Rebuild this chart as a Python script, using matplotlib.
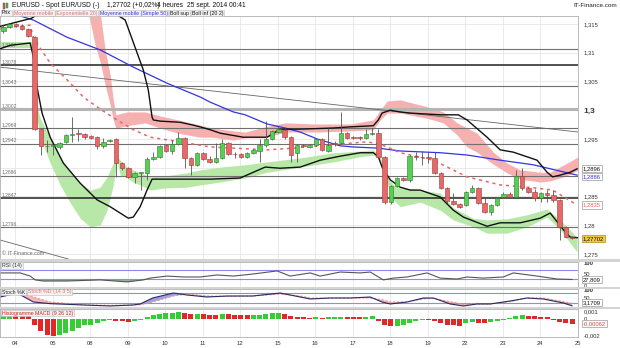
import numpy as np
import matplotlib
matplotlib.use("Agg")
import matplotlib.pyplot as plt
from matplotlib.patches import Rectangle

plt.rcParams['font.family'] = ['Liberation Sans', 'DejaVu Sans']

# --- price data (4h candles, EUR/USD) ---
open_ = [1.3138, 1.3145, 1.3150, 1.3147, 1.3141, 1.3127, 1.2967, 1.2938, 1.2937, 1.2936,
         1.2945, 1.2957, 1.2960, 1.2959, 1.2955, 1.2953, 1.2938, 1.2946, 1.2950, 1.2908,
         1.2899, 1.2884, 1.2891, 1.2891, 1.2915, 1.2919, 1.2939, 1.2929, 1.2941, 1.2952,
         1.2917, 1.2905, 1.2926, 1.2915, 1.2910, 1.2917, 1.2943, 1.2924, 1.2924, 1.2919,
         1.2926, 1.2929, 1.2939, 1.2950, 1.2962, 1.2966, 1.2953, 1.2926, 1.2939, 1.2936,
         1.2939, 1.2950, 1.2929, 1.2943, 1.2943, 1.2960, 1.2953, 1.2953, 1.2951, 1.2959,
         1.2960, 1.2919, 1.2840, 1.2868, 1.2882, 1.2879, 1.2921, 1.2919, 1.2918, 1.2917,
         1.2891, 1.2865, 1.2842, 1.2837, 1.2835, 1.2858, 1.2865, 1.2839, 1.2823, 1.2835,
         1.2849, 1.2854, 1.2849, 1.2886, 1.2865, 1.2858, 1.2847, 1.2856, 1.2852, 1.2844,
         1.2797, 1.2779]
high = [1.3148, 1.3152, 1.3152, 1.3150, 1.3143, 1.3129, 1.2969, 1.2948, 1.2942, 1.2945,
        1.2959, 1.2988, 1.2967, 1.2960, 1.2957, 1.2955, 1.2952, 1.2950, 1.2952, 1.2910,
        1.2901, 1.2893, 1.2893, 1.2919, 1.2927, 1.2940, 1.2941, 1.2948, 1.2962, 1.2953,
        1.2919, 1.2927, 1.2927, 1.2920, 1.2943, 1.2950, 1.2945, 1.2927, 1.2926, 1.2927,
        1.2933, 1.2950, 1.2981, 1.2966, 1.2972, 1.2969, 1.2955, 1.2941, 1.2941, 1.2941,
        1.2952, 1.2952, 1.2969, 1.2946, 1.2997, 1.2962, 1.2955, 1.2955, 1.2967, 1.2969,
        1.2967, 1.2921, 1.2870, 1.2884, 1.2884, 1.2922, 1.2927, 1.2929, 1.2927, 1.2927,
        1.2893, 1.2867, 1.2856, 1.2839, 1.2860, 1.2870, 1.2867, 1.2847, 1.2837, 1.2849,
        1.2858, 1.2858, 1.2896, 1.2899, 1.2867, 1.2863, 1.2858, 1.2861, 1.2861, 1.2846,
        1.2799, 1.2781]
low = [1.3134, 1.3143, 1.3145, 1.3139, 1.3127, 1.2965, 1.2922, 1.2927, 1.2922, 1.2933,
       1.2943, 1.2945, 1.2946, 1.2950, 1.2950, 1.2933, 1.2934, 1.2945, 1.2884, 1.2896,
       1.2882, 1.2874, 1.2861, 1.2879, 1.2913, 1.2917, 1.2927, 1.2924, 1.2939, 1.2899,
       1.2887, 1.2903, 1.2913, 1.2908, 1.2908, 1.2915, 1.2922, 1.2917, 1.2917, 1.2917,
       1.2924, 1.2910, 1.2936, 1.2948, 1.2960, 1.2950, 1.2910, 1.2910, 1.2936, 1.2934,
       1.2938, 1.2929, 1.2927, 1.2938, 1.2941, 1.2950, 1.2950, 1.2948, 1.2950, 1.2957,
       1.2917, 1.2837, 1.2837, 1.2866, 1.2877, 1.2875, 1.2913, 1.2905, 1.2908, 1.2889,
       1.2863, 1.2839, 1.2835, 1.2830, 1.2833, 1.2856, 1.2837, 1.2821, 1.2818, 1.2833,
       1.2847, 1.2847, 1.2847, 1.2861, 1.2856, 1.2842, 1.2840, 1.2840, 1.2840, 1.2774,
       1.2777, 1.2776]
close_ = [1.3145, 1.3150, 1.3147, 1.3141, 1.3129, 1.2967, 1.2938, 1.2937, 1.2939, 1.2943,
          1.2957, 1.2959, 1.2958, 1.2953, 1.2952, 1.2938, 1.2945, 1.2949, 1.2908, 1.2899,
          1.2884, 1.2891, 1.2891, 1.2915, 1.2919, 1.2938, 1.2929, 1.2941, 1.2952, 1.2917,
          1.2905, 1.2926, 1.2915, 1.2910, 1.2917, 1.2943, 1.2924, 1.2923, 1.2919, 1.2926,
          1.2931, 1.2939, 1.2950, 1.2964, 1.2967, 1.2953, 1.2922, 1.2939, 1.2938, 1.2939,
          1.2950, 1.2931, 1.2939, 1.2942, 1.2960, 1.2952, 1.2952, 1.2951, 1.2959, 1.2960,
          1.2919, 1.2840, 1.2868, 1.2882, 1.2879, 1.2920, 1.2919, 1.2918, 1.2917, 1.2891,
          1.2865, 1.2842, 1.2837, 1.2832, 1.2858, 1.2865, 1.2839, 1.2823, 1.2835, 1.2847,
          1.2854, 1.2849, 1.2886, 1.2865, 1.2858, 1.2847, 1.2856, 1.2852, 1.2844, 1.2797,
          1.2779, 1.2777]
last_quote = "1,27702"

day_labels = ["04", "05", "08", "09", "10", "11", "12", "15", "16", "17", "18", "19",
              "22", "23", "24", "25"]
day_pos = [1.9 + 6 * k for k in range(len(day_labels))]

# --- overlays (bar index, price) ---
boll_up_x = [-0.5, 2.0, 4.5, 9.0, 14.0, 19.5, 22.4, 23.2, 23.8, 24.0, 25.1, 28.3, 30.4, 31.5,
             33.1, 34.7, 38.4, 42.2, 44.3, 47.5, 52.8, 55.5, 59.2, 60.0, 60.6, 61.9, 63.5,
             65.1, 69.9, 72.8, 74.2, 77.4, 79.5, 81.6, 85.4, 87.0, 87.9, 89.1, 90.7, 91.8]
boll_up_y = [1.3146, 1.3153, 1.3160, 1.3190, 1.3195, 1.3157, 1.3070, 1.3035, 1.2988, 1.2983,
             1.2981, 1.2979, 1.2974, 1.2971, 1.2966, 1.2960, 1.2953, 1.2953, 1.2967, 1.2967,
             1.2969, 1.2971, 1.2973, 1.2983, 1.2995, 1.3000, 1.2997, 1.2995, 1.2992, 1.2992,
             1.2983, 1.2953, 1.2931, 1.2927, 1.2913, 1.2892, 1.2884, 1.2887, 1.2892, 1.2898]
boll_dn_x = [-0.5, 1.1, 4.3, 4.8, 5.4, 6.2, 7.5, 9.6, 12.3, 15.0, 17.1, 20.0, 20.8, 21.9,
             23.0, 23.8, 26.2, 29.4, 33.1, 37.9, 41.9, 44.3, 47.5, 50.7, 53.9, 57.1, 59.2,
             60.0, 60.6, 61.9, 63.5, 65.1, 66.7, 69.9, 72.0, 73.6, 77.4, 79.5, 82.7, 85.9,
             87.5, 89.6, 90.7, 92.0]
boll_dn_y = [1.3107, 1.3113, 1.3117, 1.3093, 1.3040, 1.2995, 1.2953, 1.2908, 1.2873, 1.2844,
             1.2832, 1.2812, 1.2814, 1.2832, 1.2861, 1.2880, 1.2880, 1.2880, 1.2880, 1.2882,
             1.2901, 1.2899, 1.2901, 1.2913, 1.2920, 1.2926, 1.2926, 1.2919, 1.2901, 1.2879,
             1.2866, 1.2861, 1.2861, 1.2849, 1.2826, 1.2814, 1.2798, 1.2804, 1.2804, 1.2812,
             1.2821, 1.2792, 1.2779, 1.2778]
ema_x = [-0.5, 4.3, 4.8, 5.9, 7.5, 10.2, 12.8, 15.5, 18.2, 20.8, 23.5, 28.3, 33.1, 36.8,
         42.2, 46.4, 51.8, 58.2, 60.3, 63.5, 65.1, 68.8, 74.2, 79.5, 84.8, 87.9, 91.8]
ema_y = [1.3143, 1.3148, 1.3127, 1.3108, 1.3082, 1.3053, 1.3023, 1.3002, 1.2983, 1.2966,
         1.2953, 1.2945, 1.2936, 1.2934, 1.2931, 1.2934, 1.2939, 1.2945, 1.2941, 1.2926,
         1.2922, 1.2913, 1.2884, 1.2870, 1.2865, 1.2861, 1.2835]
sma_x = [-0.5, 4.8, 10.2, 15.5, 20.8, 26.2, 31.5, 33.1, 36.8, 38.7, 42.2, 45.1, 47.5, 50.2,
         53.9, 56.0, 60.0, 63.5, 69.9, 74.2, 79.5, 84.8, 91.8]
sma_y = [1.3175, 1.3157, 1.3127, 1.3105, 1.3075, 1.3047, 1.3023, 1.3014, 1.2997, 1.2992,
         1.2976, 1.2969, 1.2962, 1.2950, 1.2938, 1.2936, 1.2934, 1.2929, 1.2926, 1.2922,
         1.2913, 1.2905, 1.2887]

pink_x = [13.6, 14.7, 15.5, 16.3, 17.1, 17.6, 18.0, 19.8, 22.7, 25.1, 28.0, 31.5, 33.4, 36.8,
          38.7, 41.9, 45.1, 50.2, 55.5, 59.2, 60.3, 61.4, 63.5, 67.8, 70.4, 72.6, 74.2, 75.8,
          78.4, 80.6, 82.7, 85.9, 87.5, 90.2, 92.0]
pink_top = [1.3170, 1.3170, 1.3170, 1.3105, 1.3061, 1.3018, 1.2992, 1.2997, 1.2997, 1.2990,
            1.2983, 1.2974, 1.2969, 1.2964, 1.2962, 1.2971, 1.2978, 1.2976, 1.2976, 1.2983,
            1.3000, 1.3016, 1.3018, 1.3006, 1.2997, 1.2978, 1.2969, 1.2960, 1.2927, 1.2908,
            1.2896, 1.2892, 1.2892, 1.2908, 1.2919]
pink_bot = [1.3170, 1.3113, 1.3084, 1.3044, 1.3009, 1.2983, 1.2969, 1.2973, 1.2978, 1.2969,
            1.2960, 1.2953, 1.2953, 1.2948, 1.2952, 1.2952, 1.2962, 1.2962, 1.2964, 1.2966,
            1.2983, 1.2995, 1.2995, 1.2986, 1.2978, 1.2957, 1.2936, 1.2927, 1.2906, 1.2891,
            1.2880, 1.2875, 1.2877, 1.2886, 1.2896]
green_a_x = [-0.5, 4.6]
green_a_top = [1.3119, 1.3119]
green_a_bot = [1.3108, 1.3108]
green_x = [5.1, 5.9, 6.7, 7.5, 9.1, 10.7, 12.3, 13.9, 15.5, 16.6, 17.6, 18.2, 18.7, 19.8,
           20.8, 21.9, 23.5, 26.2, 29.4, 31.5, 34.7, 38.7, 42.2, 47.5, 52.8, 57.1, 59.2,
           60.3, 61.4, 62.4, 63.5, 66.7, 69.9, 72.0, 75.2, 77.4, 80.6, 83.8, 87.0, 89.1, 91.8]
green_top = [1.3018, 1.2986, 1.2969, 1.2953, 1.2919, 1.2892, 1.2873, 1.2861, 1.2866, 1.2884,
             1.2908, 1.2919, 1.2913, 1.2901, 1.2896, 1.2891, 1.2884, 1.2886, 1.2891, 1.2896,
             1.2901, 1.2905, 1.2910, 1.2917, 1.2926, 1.2929, 1.2931, 1.2919, 1.2884, 1.2870,
             1.2865, 1.2861, 1.2856, 1.2830, 1.2812, 1.2809, 1.2811, 1.2818, 1.2828, 1.2809,
             1.2779]
green_bot = [1.3000, 1.2957, 1.2931, 1.2908, 1.2870, 1.2839, 1.2812, 1.2797, 1.2800, 1.2826,
             1.2870, 1.2913, 1.2887, 1.2882, 1.2875, 1.2870, 1.2861, 1.2865, 1.2866, 1.2870,
             1.2875, 1.2882, 1.2892, 1.2901, 1.2910, 1.2919, 1.2922, 1.2913, 1.2872, 1.2844,
             1.2832, 1.2840, 1.2826, 1.2809, 1.2797, 1.2786, 1.2786, 1.2797, 1.2814, 1.2792,
             1.2753]

levels = [1.3107, 1.3078, 1.3043, 1.3002, 1.2969, 1.2942, 1.2886, 1.2847, 1.2796]
trend_a_x = [-0.5, 92.0]
trend_a_y = [1.3075, 1.2962]
trend_b_x = [-0.5, 15.0]
trend_b_y = [1.2774, 1.2727]

# --- indicators ---
rsi_x = [-0.5, 2.7, 4.3, 5.1, 6.4, 10.2, 15.5, 19.8, 22.4, 23.5, 26.2, 28.8, 31.5, 34.2,
         36.8, 39.9, 43.8, 45.9, 49.1, 50.7, 53.9, 57.1, 58.7, 60.8, 62.4, 64.6, 67.8,
         69.9, 72.6, 74.2, 76.8, 80.0, 81.6, 85.4, 88.6, 91.0]
rsi_y = [57, 57, 43, 26, 21, 21, 26, 17, 26, 34, 43, 39, 39, 48, 43, 52, 66, 43, 57, 43,
         61, 57, 61, 26, 34, 39, 57, 34, 30, 39, 34, 39, 57, 43, 30, 27.8]
rsi_last = "27,809"

sto_x = [-0.5, 1.6, 2.7, 4.8, 7.5, 12.8, 17.1, 20.8, 21.9, 23.9, 27.2, 29.4, 32.6, 35.8,
         39.9, 44.3, 47.5, 49.1, 52.3, 55.5, 58.7, 60.6, 61.9, 64.6, 67.2, 68.8, 71.5,
         73.6, 75.8, 77.9, 81.1, 83.8, 86.4, 89.6, 91.0]
sto_k = [56, 74, 70, 26, 16, 8, 2, 8, 14, 50, 80, 68, 56, 62, 62, 80, 56, 44, 50, 50,
         56, 26, 14, 26, 50, 50, 14, 2, 14, 14, 32, 50, 44, 20, 3]
sto_d = [62, 76, 80, 56, 26, 8, 6, 8, 9, 26, 62, 74, 62, 60, 62, 74, 62, 50, 50, 50,
         50, 40, 26, 26, 44, 48, 28, 12, 14, 14, 28, 50, 50, 28, 18]
sto_last = "3,1709"

macd_hist = [0.0004, 0.00042, 0.0004, 0.00038, 0.00035, -0.0008, -0.0015, -0.002, -0.0021,
             -0.002, -0.0018, -0.0015, -0.0011, -0.0008, -0.0007, -0.0005, -0.0003, -0.0001,
             -0.0002, -0.0003, -0.00032, -0.0002, -0.0001, 0.0002, 0.0005, 0.0006, 0.0007,
             0.0008, 0.00085, 0.0007, 0.0006, 0.00062, 0.00058, 0.00055, 0.0005, 0.0006,
             0.00058, 0.00055, 0.0005, 0.00045, 0.0005, 0.00055, 0.0006, 0.00068, 0.0007,
             0.0006, 0.0004, 0.0003, 0.0002, 0.00018, 0.0003, 0.0001, 0.0002, 0.00022,
             0.0003, 0.00028, 0.00026, 0.00024, 0.0003, 0.00032, -0.0002, -0.0008, -0.0009,
             -0.00085, -0.0008, -0.0005, -0.0003, -0.0001, -0.00012, -0.0002, -0.0005,
             -0.0007, -0.0008, -0.00082, -0.0005, -0.0004, -0.00045, -0.0005, -0.0004,
             -0.0003, -0.0001, 0.0001, 0.0004, 0.00045, 0.0004, 0.00038, 0.0003, 0.0002,
             -0.0001, -0.0004, -0.0005, -0.00062]
macd_last = "-0,00062"


def comma(v, nd):
    return f"{v:.{nd}f}".replace(".", ",")


W, H = 620, 348
fig = plt.figure(figsize=(W / 100, H / 100), dpi=100)
fig.patch.set_facecolor("white")
renderer = fig.canvas.get_renderer()


def px_axes(x0, y0, x1, y1):
    return fig.add_axes([x0 / W, 1 - y1 / H, (x1 - x0) / W, (y1 - y0) / H])


def chip_row(items, x_start, y_px, size):
    # labels in little boxes, one after the other
    x = x_start
    for txt, col in items:
        t = fig.text(x / W, 1 - y_px / H, txt, fontsize=size, va="center", color=col,
                     bbox=dict(boxstyle="square,pad=0.15", fc="#f2f2f2", ec="#bcbcbc", lw=0.4))
        x = t.get_window_extent(renderer).x1 + 2.5


# gray separators between panels
for ya, yb in [(259, 262), (287, 289), (307, 309)]:
    fig.add_artist(Rectangle((0, 1 - yb / H), 1, (yb - ya) / H, transform=fig.transFigure,
                             color="#d4d4d4", lw=0))

ax = px_axes(0, 16, 578, 259)
ax_rsi = px_axes(0, 262, 578, 287)
ax_sto = px_axes(0, 289, 578, 307)
ax_macd = px_axes(0, 309, 578, 337)
xlim = (-0.53, 91.95)

for a in (ax, ax_rsi, ax_sto, ax_macd):
    a.set_xlim(*xlim)
    a.set_xticks(day_pos)
    a.tick_params(axis="x", length=0, labelbottom=False)
    a.grid(axis="x", color="#e6e6e6", lw=0.6)
    a.yaxis.tick_right()
    a.tick_params(axis="y", length=0, pad=4, labelsize=4.2, labelcolor="#333333")
    for s in a.spines.values():
        s.set_color("#b0b0b0")
        s.set_linewidth(0.6)
    a.set_axisbelow(True)

# ---------------- main price panel ----------------
ax.set_ylim(1.2741, 1.3164)
yt = [1.275, 1.28, 1.285, 1.295, 1.3, 1.305, 1.31, 1.315]
ax.set_yticks(yt)
ax.set_yticklabels(["1,275", "1,28", "1,285", "1,295", "1,3", "1,305", "1,31", "1,315"])
for lab in ax.get_yticklabels():
    if lab.get_text() == "1,3":
        lab.set_fontsize(6)
        lab.set_fontweight("bold")
for g in np.arange(1.275, 1.3151, 0.005):
    ax.axhline(g, color="#e6e6e6", lw=0.6, zorder=0)

ax.fill_between(pink_x, pink_bot, pink_top, color="#f7b0b0", lw=0, zorder=1)
ax.fill_between(green_a_x, green_a_bot, green_a_top, color="#b8e8a8", lw=0, zorder=1)
ax.fill_between(green_x, green_bot, green_top, color="#b8e8a8", lw=0, zorder=1)

for lv in levels:
    if lv in (1.3078, 1.2847):
        col, lw = "#222222", 1.1
    elif lv == 1.3002:
        col, lw = "#b4b4b4", 2.2
    else:
        col, lw = "#707070", 0.8
    ax.axhline(lv, color=col, lw=lw, zorder=2)
    ax.text(-0.2, lv + 0.0002, comma(lv, 4), fontsize=3.6, color="#707070",
            va="bottom", ha="left", zorder=3)

ax.plot(trend_a_x, trend_a_y, color="#666666", lw=0.6, zorder=2)
ax.plot(trend_b_x, trend_b_y, color="#666666", lw=0.6, zorder=2)

ax.plot(sma_x, sma_y, color="#3434e0", lw=0.9, zorder=3)
ax.plot(ema_x, ema_y, color="#e06868", lw=1.1, ls=(0, (2, 2.5)), zorder=3)
ax.plot(boll_up_x, boll_up_y, color="#111111", lw=1.0, zorder=3)
ax.plot(boll_dn_x, boll_dn_y, color="#111111", lw=1.0, zorder=3)

idx = np.arange(len(close_))
o = np.array(open_)
c = np.array(close_)
up = c >= o
body_lo = np.minimum(o, c)
body_h = np.maximum(np.abs(c - o), 0.00008)
ax.vlines(idx, low, high, color="#555555", lw=0.6, zorder=4)
ax.bar(idx[up], body_h[up], bottom=body_lo[up], width=0.72, color="#55d055",
       edgecolor="#2f7a2f", lw=0.4, zorder=5)
ax.bar(idx[~up], body_h[~up], bottom=body_lo[~up], width=0.72, color="#e86868",
       edgecolor="#9a3a3a", lw=0.4, zorder=5)

ax.text(-0.2, 1.2747, "\u00a9 IT-Finance.com", fontsize=3.8, color="#666666", va="bottom")

# right-hand value boxes
ytr = ax.get_yaxis_transform()
box = dict(boxstyle="square,pad=0.18", fc="white", ec="#9a9a9a", lw=0.5)
ax.text(1.008, boll_up_y[-1], comma(boll_up_y[-1] - 0.0002, 4), transform=ytr, fontsize=4.2,
        va="center", ha="left", color="#111111", bbox=box, clip_on=False)
ax.text(1.008, sma_y[-1] - 0.0003, comma(sma_y[-1] - 0.0001, 4), transform=ytr, fontsize=4.2,
        va="center", ha="left", color="#3434e0", bbox=box, clip_on=False)
ax.text(1.008, ema_y[-1], comma(ema_y[-1], 4), transform=ytr, fontsize=4.2,
        va="center", ha="left", color="#e06868", bbox=box, clip_on=False)
ax.text(1.008, close_[-1], last_quote, transform=ytr, fontsize=4.2, va="center", ha="left",
        color="#111111", clip_on=False,
        bbox=dict(boxstyle="square,pad=0.18", fc="#f2c840", ec="#b08a20", lw=0.5))

# ---------------- RSI ----------------
ax_rsi.set_ylim(-5.6, 105.6)
ax_rsi.set_yticks([100, 50, 0])
ax_rsi.set_yticklabels(["100", "50", "0"])
ax_rsi.get_yticklabels()[0].set_fontweight("bold")
for lv in (30, 70):
    ax_rsi.axhline(lv, color="#8c8cf0", lw=0.8)
rx = np.array(rsi_x)
ry = np.array(rsi_y, dtype=float)
ax_rsi.fill_between(rx, ry, 30, where=ry < 30, interpolate=True, color="#8fb88f", lw=0)
ax_rsi.plot(rx, ry, color="#555555", lw=0.8)
ax_rsi.text(1.008, 27.8, rsi_last, transform=ax_rsi.get_yaxis_transform(), fontsize=4.2,
            va="center", ha="left", color="#111111", bbox=box, clip_on=False)

# ---------------- Stochastic ----------------
ax_sto.set_ylim(-4.2, 104.2)
ax_sto.set_yticks([100, 50, 0])
ax_sto.set_yticklabels(["100", "50", "0"])
ax_sto.get_yticklabels()[0].set_fontweight("bold")
for lv in (20, 80):
    ax_sto.axhline(lv, color="#8c8cf0", lw=0.8)
sx = np.array(sto_x)
sk = np.array(sto_k, dtype=float)
sd = np.array(sto_d, dtype=float)
ax_sto.fill_between(sx, sk, sd, where=sd >= sk, interpolate=True, color="#f4b8b8", lw=0)
ax_sto.fill_between(sx, sk, sd, where=sk > sd, interpolate=True, color="#a0a0e0", lw=0)
ax_sto.plot(sx, sd, color="#e89898", lw=0.8, ls=(0, (2, 1.5)))
ax_sto.plot(sx, sk, color="#2a2a60", lw=0.8)
ax_sto.text(1.008, 22, sto_last, transform=ax_sto.get_yaxis_transform(), fontsize=4.2,
            va="center", ha="left", color="#111111", bbox=box, clip_on=False)

# ---------------- MACD histogram ----------------
ax_macd.set_ylim(-0.00225, 0.00124)
ax_macd.set_yticks([0.001, 0, -0.002])
ax_macd.set_yticklabels(["0,001", "0", "-0,002"])
mh = np.array(macd_hist)
rising = np.concatenate([[True], mh[1:] >= mh[:-1]])
ax_macd.bar(idx[rising], mh[rising], width=0.8, color="#35cc35", lw=0)
ax_macd.bar(idx[~rising], mh[~rising], width=0.8, color="#e02828", lw=0)
ax_macd.text(1.008, mh[-1], macd_last, transform=ax_macd.get_yaxis_transform(), fontsize=4.2,
             va="center", ha="left", color="#e04040", bbox=box, clip_on=False)
ax_macd.set_xticklabels(day_labels)
ax_macd.tick_params(axis="x", labelbottom=True, labelsize=4.2, labelcolor="#333333", pad=3)

# ---------------- header ----------------
fig.add_artist(Rectangle((2.5 / W, 1 - 9 / H), 2 / W, 6 / H, transform=fig.transFigure,
                         fc="#e05050", ec="#555555", lw=0.3))
fig.add_artist(Rectangle((5.5 / W, 1 - 8 / H), 2 / W, 5 / H, transform=fig.transFigure,
                         fc="#40c040", ec="#555555", lw=0.3))
hy = 1 - 5.5 / H
fig.text(12 / W, hy, "EURUSD - Spot EUR/USD (-)", fontsize=4.8, va="center", color="#111111")
fig.text(107 / W, hy, "1,27702 (+0,02%)", fontsize=4.8, va="center", color="#111111")
fig.text(157 / W, hy, "4 heures", fontsize=4.8, va="center", color="#111111")
fig.text(187 / W, hy, "25 sept. 2014 00:41", fontsize=4.8, va="center", color="#111111")
fig.text(617 / W, hy, "IT-Finance.com", fontsize=4.6, va="center", ha="right", color="#222222")

chip_row([("Prix", "#111111"), ("Moyenne mobile (Exponentielle 20)", "#e07070"),
          ("Moyenne mobile (Simple 50)", "#3434e0"), ("Boll sup", "#111111"),
          ("Boll inf (20 2)", "#111111")], 2, 13, 3.8)
chip_row([("RSI (14)", "#333333")], 2, 265.5, 3.8)
chip_row([("Stoch %K", "#222222"), ("Stoch %D (14 3 5)", "#e07070")], 2, 292, 3.8)
chip_row([("Histogramme MACD (9 26 12)", "#d02020")], 2, 313, 3.8)

fig.savefig("out.png", dpi=100, facecolor="white")
